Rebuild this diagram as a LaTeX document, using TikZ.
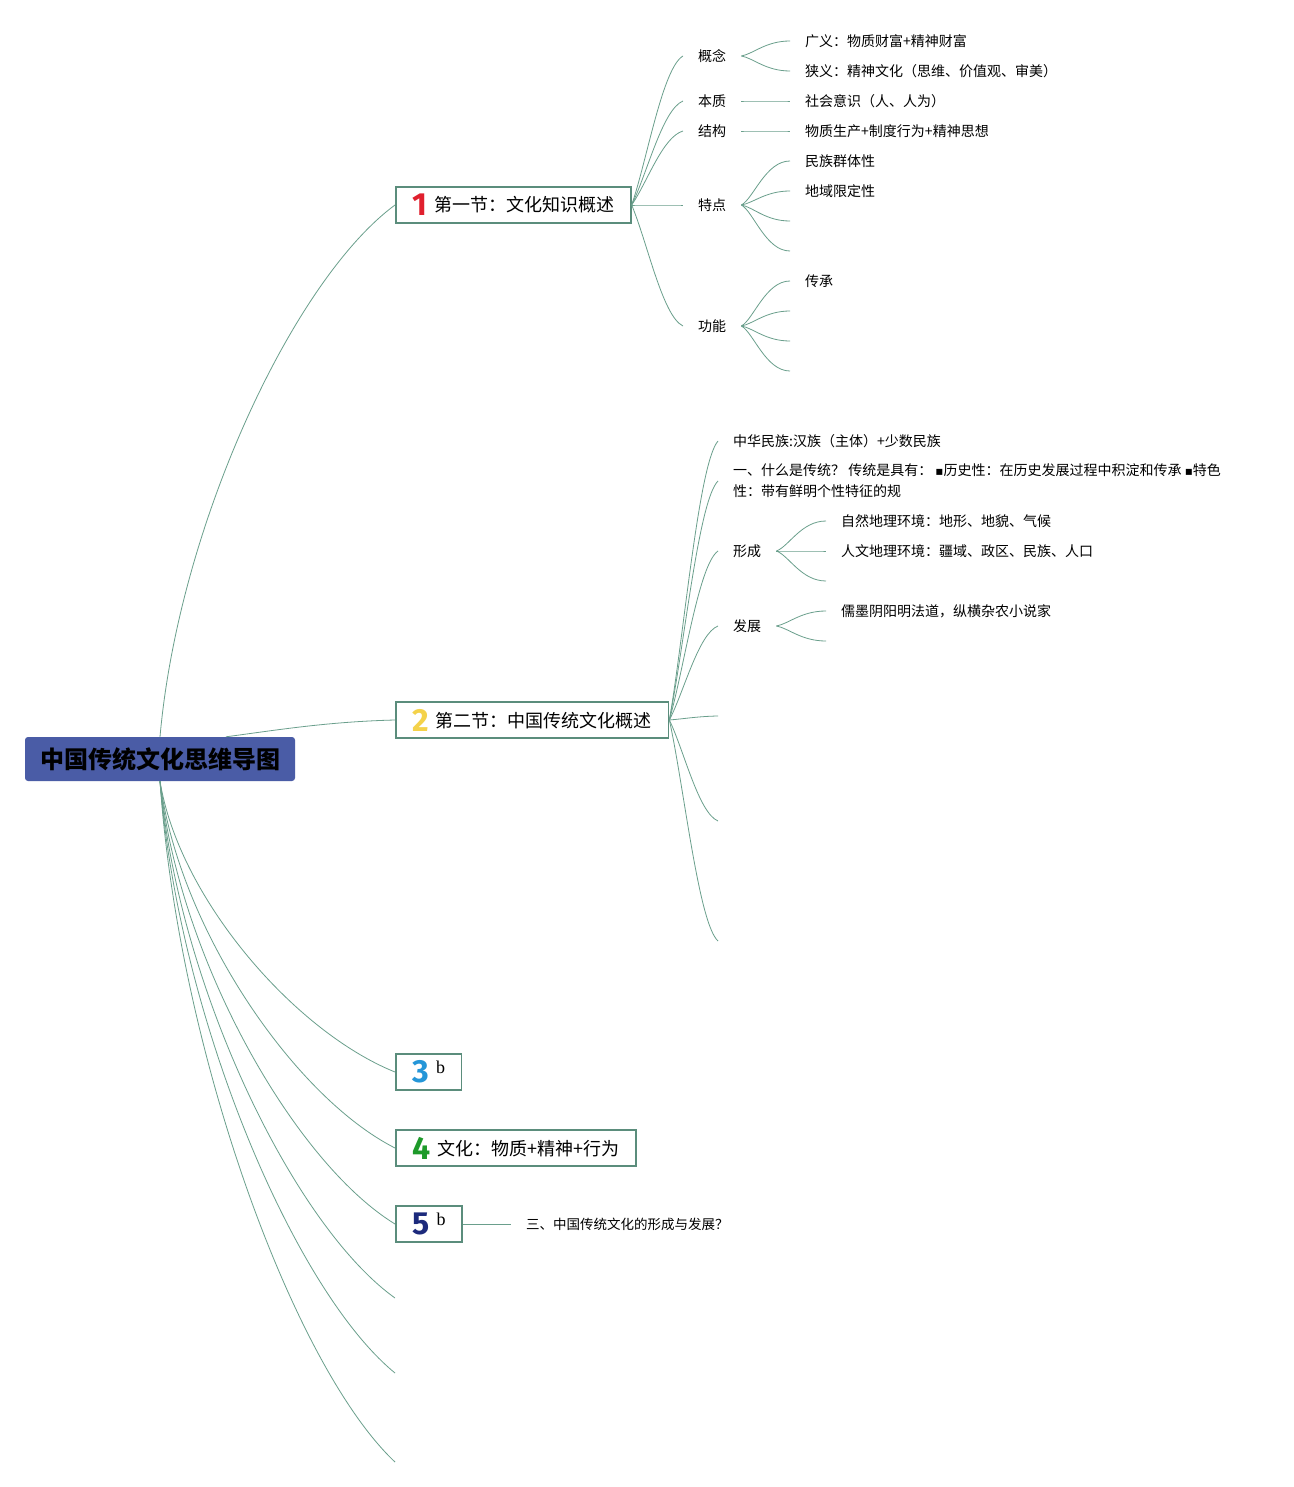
\documentclass[tikz,border=0pt]{standalone}
\usepackage{fontspec}
\setmainfont{Noto Sans CJK SC}
\newfontfamily\numfont{Fira Sans}
\newfontfamily\serifb{Liberation Serif}
\newfontfamily\dejavu{DejaVu Sans}
\usetikzlibrary{calc}
\definecolor{linec}{HTML}{6A9F8C}
\definecolor{boxc}{HTML}{5B8D7C}
\definecolor{rootc}{HTML}{4A5CA6}
\definecolor{nA}{HTML}{E0202E}
\definecolor{nB}{HTML}{F4D24A}
\definecolor{nC}{HTML}{2596D8}
\definecolor{nD}{HTML}{1E9A2A}
\definecolor{nE}{HTML}{1C2A7C}
\newcommand{\secnum}[2]{\raisebox{-4pt}{\numfont\bfseries\fontsize{32}{32}\selectfont\textcolor{#1}{#2}}\hspace{7pt}}
\newcommand{\sq}{{\dejavu\fontsize{12}{12}\selectfont ▪}}
\tikzset{
  conn/.style={draw=linec,line width=0.8pt},
  curv/.style n args={4}{to path={let \p1=(\tikztostart),\p2=(\tikztotarget) in
     .. controls ({\x1+#1*(\x2-\x1)},{\y1+#2*(\y2-\y1)}) and ({\x1+#3*(\x2-\x1)},{\y1+#4*(\y2-\y1)}) .. (\tikztotarget)}},
  rootcurve/.style={curv={0.08}{0.4}{0.57}{0.86}},
  branch/.style={curv={0.3}{0.3}{0.6}{0.92}},
  fan/.style={curv={0.25}{0.15}{0.5}{1}},
  rootbox/.style={fill=rootc,rounded corners=3pt,minimum width=270pt,minimum height=44pt,inner sep=0pt,text=black,font=\fontsize{24}{24}\selectfont\bfseries},
  secbox/.style={draw=boxc,line width=1.8pt,fill=white,anchor=west,minimum height=36pt,inner xsep=16.5pt,inner ysep=0pt,font=\fontsize{18}{18}\selectfont},
  lbl/.style={anchor=west,inner xsep=15pt,inner ysep=1pt,font=\fontsize{14}{21}\selectfont,align=left},
}
\begin{document}
\begin{tikzpicture}[x=1pt,y=-1pt]
\useasboundingbox[fill=white] (0,0) rectangle (1293,1487);

% root
\node[rootbox] (root) at (160,759) {中国传统文化思维导图};

% main branches
\node[secbox] (s1) at (395,205) {\secnum{nA}{1}第一节：文化知识概述};
\node[secbox] (s2) at (395,720) {\secnum{nB}{2}第二节：中国传统文化概述};
\node[secbox] (s3) at (395,1072) {\secnum{nC}{3}\raisebox{5pt}{\serifb b}};
\node[secbox] (s4) at (395,1148) {\secnum{nD}{4}文化：物质+精神+行为};
\node[secbox] (s5) at (395,1224) {\secnum{nE}{5}\raisebox{5pt}{\serifb b}};
\coordinate (e6) at (395,1298);
\coordinate (e7) at (395,1373);
\coordinate (e8) at (395,1462);

\draw[conn] (root.north) to[rootcurve] (s1.west);
\draw[conn] ([xshift=66pt]root.north) to[curv={0.3}{0.4}{0.6}{0.9}] (s2.west);
\draw[conn] (root.south) to[rootcurve] (s3.west);
\draw[conn] (root.south) to[rootcurve] (s4.west);
\draw[conn] (root.south) to[rootcurve] (s5.west);
\draw[conn] (root.south) to[rootcurve] (e6);
\draw[conn] (root.south) to[rootcurve] (e7);
\draw[conn] (root.south) to[rootcurve] (e8);

% section 1 children
\node[lbl] (k1) at (683,56) {概念};
\node[lbl] (k2) at (683,101) {本质};
\node[lbl] (k3) at (683,131) {结构};
\node[lbl] (k4) at (683,205) {特点};
\node[lbl] (k5) at (683,326) {功能};
\foreach \k in {k1,k2,k3,k4,k5} \draw[conn] (s1.east) to[branch] (\k.west);

\node[lbl] (k11) at (790,41) {广义：物质财富+精神财富};
\node[lbl] (k12) at (790,71) {狭义：精神文化（思维、价值观、审美）};
\node[lbl] (k21) at (790,101) {社会意识（人、人为）};
\node[lbl] (k31) at (790,131) {物质生产+制度行为+精神思想};
\node[lbl] (k41) at (790,161) {民族群体性};
\node[lbl] (k42) at (790,191) {地域限定性};
\coordinate (k43) at (790,221);
\coordinate (k44) at (790,251);
\node[lbl] (k51) at (790,281) {传承};
\coordinate (k52) at (790,311);
\coordinate (k53) at (790,341);
\coordinate (k54) at (790,371);

\draw[conn] (k1.east) to[fan] (k11.west);
\draw[conn] (k1.east) to[fan] (k12.west);
\draw[conn] (k2.east) to[fan] (k21.west);
\draw[conn] (k3.east) to[fan] (k31.west);
\draw[conn] (k4.east) to[fan] (k41.west);
\draw[conn] (k4.east) to[fan] (k42.west);
\draw[conn] (k4.east) to[fan] (k43);
\draw[conn] (k4.east) to[fan] (k44);
\draw[conn] (k5.east) to[fan] (k51.west);
\draw[conn] (k5.east) to[fan] (k52);
\draw[conn] (k5.east) to[fan] (k53);
\draw[conn] (k5.east) to[fan] (k54);

% section 2 children
\node[lbl] (m1) at (718,441) {中华民族:汉族（主体）+少数民族};
\node[lbl] (m2) at (718,481) {一、什么是传统？ 传统是具有： \sq 历史性：在历史发展过程中积淀和传承 \sq 特色\\性：带有鲜明个性特征的规};
\node[lbl] (m3) at (718,551) {形成};
\node[lbl] (m4) at (718,626) {发展};
\coordinate (m5) at (718,716);
\coordinate (m6) at (718,821);
\coordinate (m7) at (718,941);
\foreach \m in {m1,m2,m3,m4} \draw[conn] (s2.east) to[branch] (\m.west);
\foreach \m in {m5,m6,m7} \draw[conn] (s2.east) to[branch] (\m);

\node[lbl] (m31) at (826,521) {自然地理环境：地形、地貌、气候};
\node[lbl] (m32) at (826,551) {人文地理环境：疆域、政区、民族、人口};
\coordinate (m33) at (826,581);
\node[lbl] (m41) at (826,611) {儒墨阴阳明法道，纵横杂农小说家};
\coordinate (m42) at (826,641);
\draw[conn] (m3.east) to[fan] (m31.west);
\draw[conn] (m3.east) to[fan] (m32.west);
\draw[conn] (m3.east) to[fan] (m33);
\draw[conn] (m4.east) to[fan] (m41.west);
\draw[conn] (m4.east) to[fan] (m42);

% section 5 child
\node[lbl,font=\fontsize{13.5}{16}\selectfont] (t5) at (511,1224) {三、中国传统文化的形成与发展？};
\draw[conn] (s5.east) -- (t5.west);
\end{tikzpicture}
\end{document}
